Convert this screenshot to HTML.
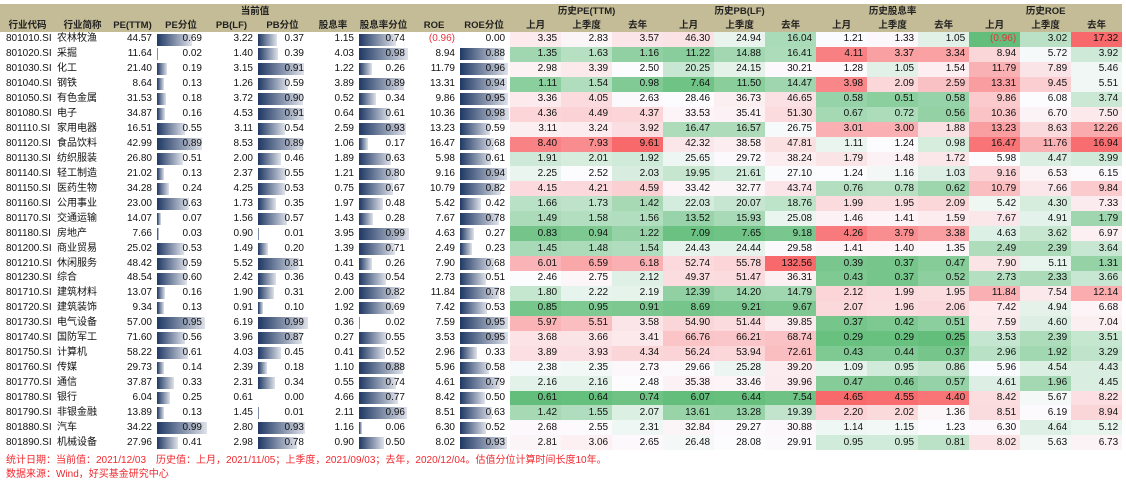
<!DOCTYPE html>
<html><head><meta charset="utf-8">
<style>
body{margin:0;width:1126px;height:484px;background:#fff;font-family:"Liberation Sans","Noto Sans CJK SC",sans-serif;font-size:10px;color:#111;overflow:hidden;position:relative}
table{position:absolute;left:0;top:4px;border-collapse:collapse;table-layout:fixed;width:1122px}
td,th{padding:0;white-space:nowrap;overflow:hidden}
tbody tr{height:14.95px}
td{line-height:14px}
thead tr{height:14px}
thead th{background:#c4bc96;font-weight:bold;color:#222;line-height:13px;text-align:center;font-size:9.5px}
td{text-align:right;padding-right:3px}
td.c{text-align:left;padding-left:6px;padding-right:0}
td.n{text-align:left;padding-left:2px;padding-right:0}
td.b{position:relative;padding-right:5px}
td.b i{position:absolute;left:2px;top:1.5px;height:12px;background:linear-gradient(to right,#1f3864,#dfe2ea)}
td.b span{position:relative}
td.h{padding-right:4px}
.neg{color:#e8323c}
.ft{position:absolute;left:6px;color:#f0282e;font-size:10px}
</style></head><body>
<table>
<colgroup><col style="width:55px"><col style="width:55px"><col style="width:45px"><col style="width:52px"><col style="width:49px"><col style="width:53px"><col style="width:48px"><col style="width:53px"><col style="width:48px"><col style="width:52px">
<col style="width:51px"><col style="width:51px"><col style="width:51px"><col style="width:51px"><col style="width:51px"><col style="width:51px"><col style="width:51px"><col style="width:51px"><col style="width:51px"><col style="width:51px"><col style="width:51px"><col style="width:51px"></colgroup>
<thead>
<tr><th colspan="10">当前值</th><th colspan="3">历史PE(TTM)</th><th colspan="3">历史PB(LF)</th><th colspan="3">历史股息率</th><th colspan="3">历史ROE</th></tr>
<tr><th>行业代码</th><th>行业简称</th><th>PE(TTM)</th><th>PE分位</th><th>PB(LF)</th><th>PB分位</th><th>股息率</th><th>股息率分位</th><th>ROE</th><th>ROE分位</th><th>上月</th><th>上季度</th><th>去年</th><th>上月</th><th>上季度</th><th>去年</th><th>上月</th><th>上季度</th><th>去年</th><th>上月</th><th>上季度</th><th>去年</th></tr>
</thead>
<tbody id="tb">
<tr><td>801010.SI</td><td>农林牧渔</td><td>44.57</td><td>0.69</td><td>3.22</td><td>0.37</td><td>1.15</td><td>0.74</td><td class="neg">(0.96)</td><td>0.00</td><td>3.35</td><td>2.83</td><td>3.57</td><td>46.30</td><td>24.94</td><td>16.04</td><td>1.21</td><td>1.33</td><td>1.05</td><td class="neg">(0.96)</td><td>3.02</td><td>17.32</td></tr>
<tr><td>801020.SI</td><td>采掘</td><td>11.64</td><td>0.02</td><td>1.40</td><td>0.39</td><td>4.03</td><td>0.98</td><td>8.94</td><td>0.88</td><td>1.35</td><td>1.63</td><td>1.16</td><td>11.22</td><td>14.88</td><td>16.41</td><td>4.11</td><td>3.37</td><td>3.34</td><td>8.94</td><td>5.72</td><td>3.92</td></tr>
<tr><td>801030.SI</td><td>化工</td><td>21.40</td><td>0.19</td><td>3.15</td><td>0.91</td><td>1.22</td><td>0.26</td><td>11.79</td><td>0.96</td><td>2.98</td><td>3.39</td><td>2.50</td><td>20.25</td><td>24.15</td><td>30.21</td><td>1.28</td><td>1.05</td><td>1.54</td><td>11.79</td><td>7.89</td><td>5.46</td></tr>
<tr><td>801040.SI</td><td>钢铁</td><td>8.64</td><td>0.13</td><td>1.26</td><td>0.59</td><td>3.89</td><td>0.89</td><td>13.31</td><td>0.94</td><td>1.11</td><td>1.54</td><td>0.98</td><td>7.64</td><td>11.50</td><td>14.47</td><td>3.98</td><td>2.09</td><td>2.59</td><td>13.31</td><td>9.45</td><td>5.51</td></tr>
<tr><td>801050.SI</td><td>有色金属</td><td>31.53</td><td>0.18</td><td>3.72</td><td>0.90</td><td>0.52</td><td>0.34</td><td>9.86</td><td>0.95</td><td>3.36</td><td>4.05</td><td>2.63</td><td>28.46</td><td>36.73</td><td>46.65</td><td>0.58</td><td>0.51</td><td>0.58</td><td>9.86</td><td>6.08</td><td>3.74</td></tr>
<tr><td>801080.SI</td><td>电子</td><td>34.87</td><td>0.16</td><td>4.53</td><td>0.91</td><td>0.64</td><td>0.61</td><td>10.36</td><td>0.98</td><td>4.36</td><td>4.49</td><td>4.37</td><td>33.53</td><td>35.41</td><td>51.30</td><td>0.67</td><td>0.72</td><td>0.56</td><td>10.36</td><td>6.70</td><td>7.50</td></tr>
<tr><td>801110.SI</td><td>家用电器</td><td>16.51</td><td>0.55</td><td>3.11</td><td>0.54</td><td>2.59</td><td>0.93</td><td>13.23</td><td>0.59</td><td>3.11</td><td>3.24</td><td>3.92</td><td>16.47</td><td>16.57</td><td>26.75</td><td>3.01</td><td>3.00</td><td>1.88</td><td>13.23</td><td>8.63</td><td>12.26</td></tr>
<tr><td>801120.SI</td><td>食品饮料</td><td>42.99</td><td>0.89</td><td>8.53</td><td>0.89</td><td>1.06</td><td>0.17</td><td>16.47</td><td>0.68</td><td>8.40</td><td>7.93</td><td>9.61</td><td>42.32</td><td>38.58</td><td>47.81</td><td>1.11</td><td>1.24</td><td>0.98</td><td>16.47</td><td>11.76</td><td>16.94</td></tr>
<tr><td>801130.SI</td><td>纺织服装</td><td>26.80</td><td>0.51</td><td>2.00</td><td>0.46</td><td>1.89</td><td>0.63</td><td>5.98</td><td>0.61</td><td>1.91</td><td>2.01</td><td>1.92</td><td>25.65</td><td>29.72</td><td>38.24</td><td>1.79</td><td>1.48</td><td>1.72</td><td>5.98</td><td>4.47</td><td>3.99</td></tr>
<tr><td>801140.SI</td><td>轻工制造</td><td>21.02</td><td>0.13</td><td>2.37</td><td>0.55</td><td>1.21</td><td>0.80</td><td>9.16</td><td>0.94</td><td>2.25</td><td>2.52</td><td>2.03</td><td>19.95</td><td>21.61</td><td>27.10</td><td>1.24</td><td>1.16</td><td>1.03</td><td>9.16</td><td>6.53</td><td>6.15</td></tr>
<tr><td>801150.SI</td><td>医药生物</td><td>34.28</td><td>0.24</td><td>4.25</td><td>0.53</td><td>0.75</td><td>0.67</td><td>10.79</td><td>0.82</td><td>4.15</td><td>4.21</td><td>4.59</td><td>33.42</td><td>32.77</td><td>43.74</td><td>0.76</td><td>0.78</td><td>0.62</td><td>10.79</td><td>7.66</td><td>9.84</td></tr>
<tr><td>801160.SI</td><td>公用事业</td><td>23.00</td><td>0.63</td><td>1.73</td><td>0.35</td><td>1.97</td><td>0.48</td><td>5.42</td><td>0.42</td><td>1.66</td><td>1.73</td><td>1.42</td><td>22.03</td><td>20.07</td><td>18.76</td><td>1.99</td><td>1.95</td><td>2.09</td><td>5.42</td><td>4.30</td><td>7.33</td></tr>
<tr><td>801170.SI</td><td>交通运输</td><td>14.07</td><td>0.07</td><td>1.56</td><td>0.57</td><td>1.43</td><td>0.28</td><td>7.67</td><td>0.78</td><td>1.49</td><td>1.58</td><td>1.56</td><td>13.52</td><td>15.93</td><td>25.08</td><td>1.46</td><td>1.41</td><td>1.59</td><td>7.67</td><td>4.91</td><td>1.79</td></tr>
<tr><td>801180.SI</td><td>房地产</td><td>7.66</td><td>0.03</td><td>0.90</td><td>0.01</td><td>3.95</td><td>0.99</td><td>4.63</td><td>0.27</td><td>0.83</td><td>0.94</td><td>1.22</td><td>7.09</td><td>7.65</td><td>9.18</td><td>4.26</td><td>3.79</td><td>3.38</td><td>4.63</td><td>3.62</td><td>6.97</td></tr>
<tr><td>801200.SI</td><td>商业贸易</td><td>25.02</td><td>0.53</td><td>1.49</td><td>0.20</td><td>1.39</td><td>0.71</td><td>2.49</td><td>0.23</td><td>1.45</td><td>1.48</td><td>1.54</td><td>24.43</td><td>24.44</td><td>29.58</td><td>1.41</td><td>1.40</td><td>1.35</td><td>2.49</td><td>2.39</td><td>3.64</td></tr>
<tr><td>801210.SI</td><td>休闲服务</td><td>48.42</td><td>0.59</td><td>5.52</td><td>0.81</td><td>0.41</td><td>0.26</td><td>7.90</td><td>0.68</td><td>6.01</td><td>6.59</td><td>6.18</td><td>52.74</td><td>55.78</td><td>132.56</td><td>0.39</td><td>0.37</td><td>0.47</td><td>7.90</td><td>5.11</td><td>1.31</td></tr>
<tr><td>801230.SI</td><td>综合</td><td>48.54</td><td>0.60</td><td>2.42</td><td>0.36</td><td>0.43</td><td>0.54</td><td>2.73</td><td>0.51</td><td>2.46</td><td>2.75</td><td>2.12</td><td>49.37</td><td>51.47</td><td>36.31</td><td>0.43</td><td>0.37</td><td>0.52</td><td>2.73</td><td>2.33</td><td>3.66</td></tr>
<tr><td>801710.SI</td><td>建筑材料</td><td>13.07</td><td>0.16</td><td>1.90</td><td>0.31</td><td>2.00</td><td>0.82</td><td>11.84</td><td>0.78</td><td>1.80</td><td>2.22</td><td>2.19</td><td>12.39</td><td>14.20</td><td>14.79</td><td>2.12</td><td>1.99</td><td>1.95</td><td>11.84</td><td>7.54</td><td>12.14</td></tr>
<tr><td>801720.SI</td><td>建筑装饰</td><td>9.34</td><td>0.13</td><td>0.91</td><td>0.10</td><td>1.92</td><td>0.69</td><td>7.42</td><td>0.53</td><td>0.85</td><td>0.95</td><td>0.91</td><td>8.69</td><td>9.21</td><td>9.67</td><td>2.07</td><td>1.96</td><td>2.06</td><td>7.42</td><td>4.94</td><td>6.68</td></tr>
<tr><td>801730.SI</td><td>电气设备</td><td>57.00</td><td>0.95</td><td>6.19</td><td>0.99</td><td>0.36</td><td>0.02</td><td>7.59</td><td>0.95</td><td>5.97</td><td>5.51</td><td>3.58</td><td>54.90</td><td>51.44</td><td>39.85</td><td>0.37</td><td>0.42</td><td>0.51</td><td>7.59</td><td>4.60</td><td>7.04</td></tr>
<tr><td>801740.SI</td><td>国防军工</td><td>71.60</td><td>0.56</td><td>3.96</td><td>0.87</td><td>0.27</td><td>0.55</td><td>3.53</td><td>0.95</td><td>3.68</td><td>3.66</td><td>3.41</td><td>66.76</td><td>66.21</td><td>68.74</td><td>0.29</td><td>0.29</td><td>0.25</td><td>3.53</td><td>2.39</td><td>3.51</td></tr>
<tr><td>801750.SI</td><td>计算机</td><td>58.22</td><td>0.61</td><td>4.03</td><td>0.45</td><td>0.41</td><td>0.52</td><td>2.96</td><td>0.33</td><td>3.89</td><td>3.93</td><td>4.34</td><td>56.24</td><td>53.94</td><td>72.61</td><td>0.43</td><td>0.44</td><td>0.37</td><td>2.96</td><td>1.92</td><td>3.29</td></tr>
<tr><td>801760.SI</td><td>传媒</td><td>29.73</td><td>0.14</td><td>2.39</td><td>0.18</td><td>1.10</td><td>0.88</td><td>5.96</td><td>0.58</td><td>2.38</td><td>2.35</td><td>2.73</td><td>29.66</td><td>25.28</td><td>39.20</td><td>1.09</td><td>0.95</td><td>0.86</td><td>5.96</td><td>4.54</td><td>4.43</td></tr>
<tr><td>801770.SI</td><td>通信</td><td>37.87</td><td>0.33</td><td>2.31</td><td>0.34</td><td>0.55</td><td>0.74</td><td>4.61</td><td>0.79</td><td>2.16</td><td>2.16</td><td>2.48</td><td>35.38</td><td>33.46</td><td>39.96</td><td>0.47</td><td>0.46</td><td>0.57</td><td>4.61</td><td>1.96</td><td>4.45</td></tr>
<tr><td>801780.SI</td><td>银行</td><td>6.04</td><td>0.25</td><td>0.61</td><td>0.00</td><td>4.66</td><td>0.77</td><td>8.42</td><td>0.50</td><td>0.61</td><td>0.64</td><td>0.74</td><td>6.07</td><td>6.44</td><td>7.54</td><td>4.65</td><td>4.55</td><td>4.40</td><td>8.42</td><td>5.67</td><td>8.22</td></tr>
<tr><td>801790.SI</td><td>非银金融</td><td>13.89</td><td>0.13</td><td>1.45</td><td>0.01</td><td>2.11</td><td>0.96</td><td>8.51</td><td>0.63</td><td>1.42</td><td>1.55</td><td>2.07</td><td>13.61</td><td>13.28</td><td>19.39</td><td>2.20</td><td>2.02</td><td>1.36</td><td>8.51</td><td>6.19</td><td>8.94</td></tr>
<tr><td>801880.SI</td><td>汽车</td><td>34.22</td><td>0.99</td><td>2.80</td><td>0.93</td><td>1.16</td><td>0.06</td><td>6.30</td><td>0.52</td><td>2.68</td><td>2.55</td><td>2.31</td><td>32.84</td><td>29.27</td><td>30.88</td><td>1.14</td><td>1.15</td><td>1.23</td><td>6.30</td><td>4.64</td><td>5.12</td></tr>
<tr><td>801890.SI</td><td>机械设备</td><td>27.96</td><td>0.41</td><td>2.98</td><td>0.78</td><td>0.90</td><td>0.50</td><td>8.02</td><td>0.93</td><td>2.81</td><td>3.06</td><td>2.65</td><td>26.48</td><td>28.08</td><td>29.91</td><td>0.95</td><td>0.95</td><td>0.81</td><td>8.02</td><td>5.63</td><td>6.73</td></tr>
</tbody></table>
<div class="ft" style="top:451px">统计日期：当前值：2021/12/03　历史值：上月，2021/11/05；上季度，2021/09/03；去年，2020/12/04。估值分位计算时间长度10年。</div>
<div class="ft" style="top:465px">数据来源：Wind，好买基金研究中心</div>
<script>
(function(){
var rows=document.getElementById('tb').rows;
function num(s){s=s.trim();var n=s.charAt(0)=='(';return parseFloat(s.replace(/[()]/g,''))*(n?-1:1);}
for(var r=0;r<rows.length;r++){
 var c=rows[r].cells;
 c[0].className='c';c[1].className='n';
 [3,5,7,9].forEach(function(k){var v=num(c[k].textContent);var t=c[k].textContent;c[k].className='b';c[k].innerHTML='<i style="width:'+(v*50)+'px"></i><span>'+t+'</span>';});
 for(var k=10;k<22;k++){c[k].className=(c[k].className?c[k].className+' ':'')+'h';}
}
function mix(a,b,t){return 'rgb('+[0,1,2].map(function(i){return Math.round(a[i]+(b[i]-a[i])*t)}).join(',')+')';}
var G=[99,190,123],W=[252,252,255],R=[248,105,107];
for(var g=0;g<4;g++){
 var vals=[];
 for(var r=0;r<rows.length;r++)for(var j=0;j<3;j++)vals.push(num(rows[r].cells[10+g*3+j].textContent));
 var s=vals.slice().sort(function(a,b){return a-b});
 var mn=s[0],mx=s[s.length-1],m=s.length,md=(s[m/2-1]+s[m/2])/2;
 for(var r=0;r<rows.length;r++)for(var j=0;j<3;j++){
  var cell=rows[r].cells[10+g*3+j],v=num(cell.textContent);
  cell.style.background= v<=md? mix(G,W,(v-mn)/(md-mn)) : mix(W,R,(v-md)/(mx-md));
 }
}
})();
</script>
</body></html>
